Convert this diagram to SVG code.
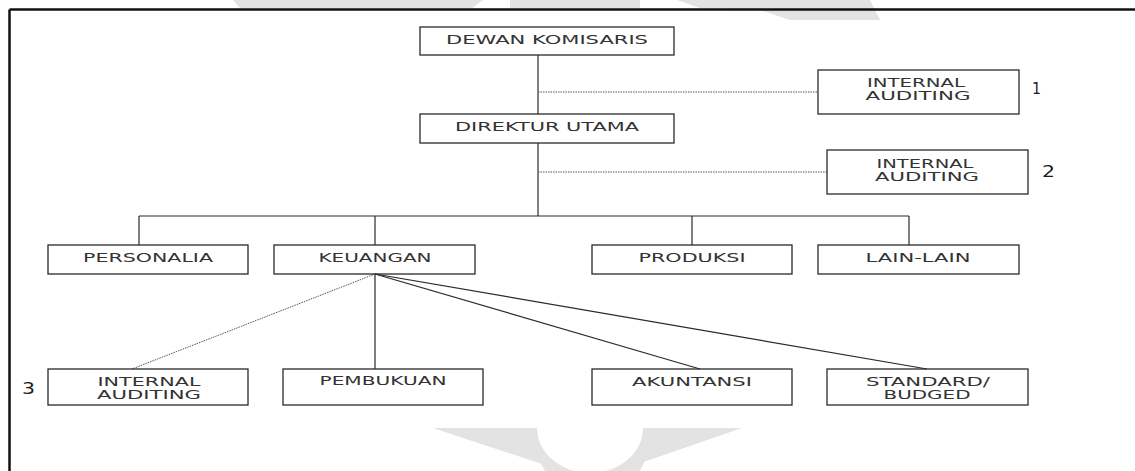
<svg xmlns="http://www.w3.org/2000/svg" width="1135" height="471" viewBox="0 0 1135 471">
<style>
.box{fill:none;stroke:#2a2a2a;stroke-width:1.3}
.t{font-family:"DejaVu Sans",Verdana,sans-serif;font-size:12.3px;fill:#333;text-anchor:middle}
.n{font-family:"DejaVu Sans",Verdana,sans-serif;font-size:15px;fill:#1a1a1a}
.ln{stroke:#2a2a2a;stroke-width:1.2;fill:none}
.dot{stroke:#555;stroke-width:1;stroke-dasharray:1.5 1;fill:none}
.wm{fill:#e3e3e3}
</style>
<rect x="0" y="0" width="1135" height="471" fill="#ffffff"/>
<g id="watermark">
<path class="wm" d="M233,0 L483,0 L472,8 L240,8 Z"/>
<path class="wm" d="M510,0 L640,0 L640,8 L510,8 Z"/>
<path class="wm" d="M677,0 L870,0 L880,20 L790,20 L760,10 L700,8 Z"/>
<path class="wm" d="M433,428 L525,428 L548,466 Z"/>
<path class="wm" d="M742,428 L655,428 L632,466 Z"/>
<path class="wm" d="M520,428 L537,428 A53,45 0 0 0 643,428 L660,428 L640,471 L545,471 Z"/>
</g>
<g id="frame">
<line x1="9.5" y1="9.5" x2="1135" y2="9.5" stroke="#111" stroke-width="2.5"/>
<line x1="9.5" y1="9.5" x2="9.5" y2="471" stroke="#111" stroke-width="2.5"/>
</g>
<g id="connectors">
<line class="ln" x1="538" y1="55" x2="538" y2="114"/>
<line class="ln" x1="538" y1="143" x2="538" y2="216"/>
<line class="dot" x1="538" y1="92" x2="818" y2="92"/>
<line class="dot" x1="538" y1="172" x2="827" y2="172"/>
<line class="ln" x1="139" y1="216" x2="909" y2="216"/>
<line class="ln" x1="139" y1="216" x2="139" y2="245"/>
<line class="ln" x1="375" y1="216" x2="375" y2="245"/>
<line class="ln" x1="692" y1="216" x2="692" y2="245"/>
<line class="ln" x1="909" y1="216" x2="909" y2="245"/>
<line class="ln" x1="375" y1="274" x2="375" y2="369"/>
<line class="dot" x1="375" y1="274" x2="132" y2="369"/>
<line class="ln" x1="375" y1="274" x2="700" y2="369"/>
<line class="ln" x1="375" y1="274" x2="927" y2="369"/>
</g>
<g id="dewan-komisaris">
<rect class="box" x="420" y="27" width="254" height="28"/>
<text class="t" x="547" y="44" textLength="202" lengthAdjust="spacingAndGlyphs">DEWAN KOMISARIS</text>
</g>
<g id="direktur-utama">
<rect class="box" x="420" y="114" width="254" height="29"/>
<text class="t" x="547" y="131" textLength="184" lengthAdjust="spacingAndGlyphs">DIREKTUR UTAMA</text>
</g>
<g id="internal-auditing-1">
<rect class="box" x="818" y="70" width="201" height="44"/>
<text class="t" x="916" y="87" textLength="98" lengthAdjust="spacingAndGlyphs">INTERNAL</text>
<text class="t" x="918" y="100" textLength="105" lengthAdjust="spacingAndGlyphs">AUDITING</text>
<text class="n" x="1032" y="94" textLength="9" lengthAdjust="spacingAndGlyphs">1</text>
</g>
<g id="internal-auditing-2">
<rect class="box" x="827" y="150" width="201" height="44"/>
<text class="t" x="925" y="168" textLength="97" lengthAdjust="spacingAndGlyphs">INTERNAL</text>
<text class="t" x="927" y="181" textLength="104" lengthAdjust="spacingAndGlyphs">AUDITING</text>
<text class="n" x="1042" y="177" textLength="13" lengthAdjust="spacingAndGlyphs">2</text>
</g>
<g id="personalia">
<rect class="box" x="48" y="245" width="200" height="29"/>
<text class="t" x="148" y="262" textLength="130" lengthAdjust="spacingAndGlyphs">PERSONALIA</text>
</g>
<g id="keuangan">
<rect class="box" x="274" y="245" width="201" height="29"/>
<text class="t" x="375" y="262" textLength="113" lengthAdjust="spacingAndGlyphs">KEUANGAN</text>
</g>
<g id="produksi">
<rect class="box" x="592" y="245" width="200" height="29"/>
<text class="t" x="692" y="262" textLength="107" lengthAdjust="spacingAndGlyphs">PRODUKSI</text>
</g>
<g id="lain-lain">
<rect class="box" x="818" y="245" width="201" height="29"/>
<text class="t" x="918" y="262" textLength="105" lengthAdjust="spacingAndGlyphs">LAIN-LAIN</text>
</g>
<g id="internal-auditing-3">
<rect class="box" x="48" y="369" width="200" height="36"/>
<text class="t" x="149" y="386" textLength="103" lengthAdjust="spacingAndGlyphs">INTERNAL</text>
<text class="t" x="149" y="399" textLength="104" lengthAdjust="spacingAndGlyphs">AUDITING</text>
<text class="n" x="22" y="394" textLength="13" lengthAdjust="spacingAndGlyphs">3</text>
</g>
<g id="pembukuan">
<rect class="box" x="283" y="369" width="200" height="36"/>
<text class="t" x="383" y="385" textLength="127" lengthAdjust="spacingAndGlyphs">PEMBUKUAN</text>
</g>
<g id="akuntansi">
<rect class="box" x="592" y="369" width="200" height="36"/>
<text class="t" x="692" y="386" textLength="120" lengthAdjust="spacingAndGlyphs">AKUNTANSI</text>
</g>
<g id="standard-budged">
<rect class="box" x="827" y="369" width="201" height="36"/>
<text class="t" x="928" y="386" textLength="124" lengthAdjust="spacingAndGlyphs">STANDARD/</text>
<text class="t" x="927" y="399" textLength="87" lengthAdjust="spacingAndGlyphs">BUDGED</text>
</g>
</svg>
